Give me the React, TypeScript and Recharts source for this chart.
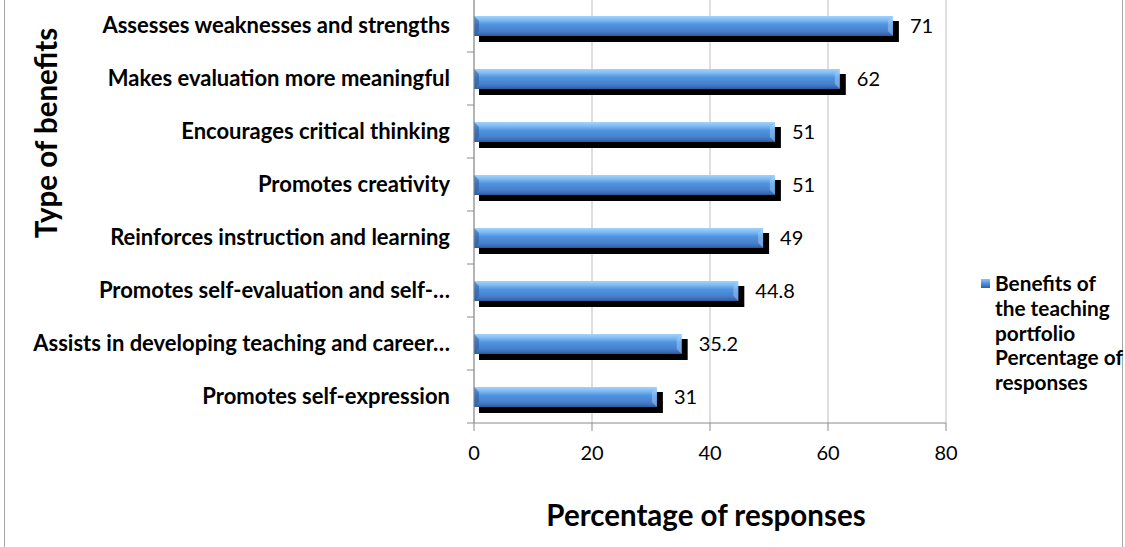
import React from 'react';
import { BarChart, Bar, XAxis, YAxis, CartesianGrid, LabelList, Legend } from 'recharts';

const categories = [
  'Assesses weaknesses and strengths',
  'Makes evaluation more meaningful',
  'Encourages critical thinking',
  'Promotes creativity',
  'Reinforces instruction and learning',
  'Promotes self-evaluation and self-…',
  'Assists in developing teaching and career…',
  'Promotes self-expression',
];
const values = [71, 62, 51, 51, 49, 44.8, 35.2, 31];
const xTicks = [0, 20, 40, 60, 80];
const legendLines = ['Benefits of', 'the teaching', 'portfolio', 'Percentage of', 'responses'];
const seriesName = legendLines.join(' ');
const xTitle = 'Percentage of responses';
const yTitle = 'Type of benefits';

const data = categories.map((c, i) => ({ category: c, value: values[i] }));

const FONT = 'Lato, "Noto Sans", sans-serif';
const W = 1125;
const H = 547;
const AXIS_X = 474;
const MARGIN = { top: -1, right: 179, bottom: 14, left: 0 };
const X_AXIS_H = 110;
const PLOT_H = H - MARGIN.top - MARGIN.bottom - X_AXIS_H;
const HALF_BAND = PLOT_H / categories.length / 2;
const AXIS_COLOR = '#8a8a8a';
const GRID_COLOR = '#bdbdbd';

const CategoryTick = (props: any) => {
  const { x, y, payload } = props;
  return (
    <g>
      <line x1={AXIS_X - 7} x2={AXIS_X} y1={y + HALF_BAND} y2={y + HALF_BAND} stroke={AXIS_COLOR} strokeWidth={1} />
      <text x={x} y={y} dy="0.36em" textAnchor="end" fontFamily={FONT} fontWeight={700} fontSize={22} fill="#000">
        {payload.value}
      </text>
    </g>
  );
};

const BeveledBar = (props: any) => {
  const { x, y, width, height, index } = props;
  if (!width || width <= 0) return null;
  const b = 5;
  const id = `barGrad-${index}`;
  return (
    <g>
      <defs>
        <linearGradient id={id} x1="0" y1="0" x2="0" y2="1">
          <stop offset="0" stopColor="#a3d3fc" />
          <stop offset="0.22" stopColor="#7ab8f3" />
          <stop offset="0.42" stopColor="#5094e0" />
          <stop offset="0.75" stopColor="#4680cc" />
          <stop offset="0.9" stopColor="#3a6db3" />
          <stop offset="1" stopColor="#2c5896" />
        </linearGradient>
      </defs>
      <rect x={x + 5} y={y + 5} width={width + 1} height={height + 1} fill="#000" />
      <rect x={x} y={y} width={width} height={height} fill={`url(#${id})`} />
      <polygon
        points={`${x},${y} ${x + b},${y + b} ${x + b},${y + height - b} ${x},${y + height}`}
        fill="#2b5a9c"
        opacity={0.55}
      />
      <polygon
        points={`${x + width},${y} ${x + width - b},${y + b} ${x + width - b},${y + height - b} ${x + width},${y + height}`}
        fill="#a8d5fb"
        opacity={0.45}
      />
    </g>
  );
};

const XTitle = () => (
  <text x={706} y={526} textAnchor="middle" fontFamily={FONT} fontWeight={700} fontSize={29.5} fill="#000">
    {xTitle}
  </text>
);

const YTitle = () => (
  <text
    x={57}
    y={133}
    textAnchor="middle"
    transform="rotate(-90 57 133)"
    fontFamily={FONT}
    fontWeight={700}
    fontSize={29.5}
    fill="#000"
  >
    {yTitle}
  </text>
);

const LegendContent = () => (
  <div
    style={{
      position: 'relative',
      paddingLeft: 14,
      fontFamily: FONT,
      fontWeight: 700,
      fontSize: 20.8,
      lineHeight: '24.8px',
      color: '#000',
      textAlign: 'left',
    }}
  >
    <span
      style={{
        position: 'absolute',
        left: 0,
        top: 8,
        width: 9,
        height: 9,
        background: 'linear-gradient(#8cc4f8, #4f8fdc 50%, #2f5d9e)',
      }}
    />
    {legendLines.map((l) => (
      <div key={l} style={{ whiteSpace: 'nowrap' }}>{l}</div>
    ))}
  </div>
);

export default function App() {
  return (
    <div style={{ position: 'relative', width: W, height: H, overflow: 'hidden', background: '#fff' }}>
      <style>{'html,body{margin:0;padding:0;overflow:hidden;}'}</style>
      <div
        style={{
          position: 'absolute',
          left: 4,
          top: -20,
          width: 1119,
          height: 600,
          border: '1.5px solid #a6a6a6',
          boxSizing: 'border-box',
        }}
      />
      <div style={{ position: 'absolute', left: 0, top: 0 }}>
        <BarChart width={W} height={H} data={data} layout="vertical" margin={MARGIN} barSize={20}>
          <CartesianGrid horizontal={false} vertical={true} stroke={GRID_COLOR} strokeWidth={1} />
          <XAxis
            type="number"
            domain={[0, 80]}
            ticks={xTicks}
            interval={0}
            height={X_AXIS_H}
            tickSize={8}
            tickMargin={15}
            axisLine={{ stroke: AXIS_COLOR }}
            tickLine={{ stroke: AXIS_COLOR }}
            tick={{ fill: '#000', fontSize: 20, fontFamily: FONT }}
            label={<XTitle />}
          />
          <YAxis
            type="category"
            dataKey="category"
            width={AXIS_X}
            tickSize={0}
            tickMargin={24}
            interval={0}
            axisLine={{ stroke: AXIS_COLOR }}
            tickLine={false}
            tick={<CategoryTick />}
            label={<YTitle />}
          />
          <Legend
            layout="vertical"
            align="center"
            verticalAlign="middle"
            content={<LegendContent />}
            wrapperStyle={{ left: 981, top: 271, width: 144, right: 'auto', bottom: 'auto' }}
          />
          <Bar dataKey="value" name={seriesName} fill="#4f8fdc" shape={<BeveledBar />} isAnimationActive={false}>
            <LabelList dataKey="value" position="right" offset={17} fill="#000" fontSize={20} fontFamily={FONT} />
          </Bar>
        </BarChart>
      </div>
    </div>
  );
}
